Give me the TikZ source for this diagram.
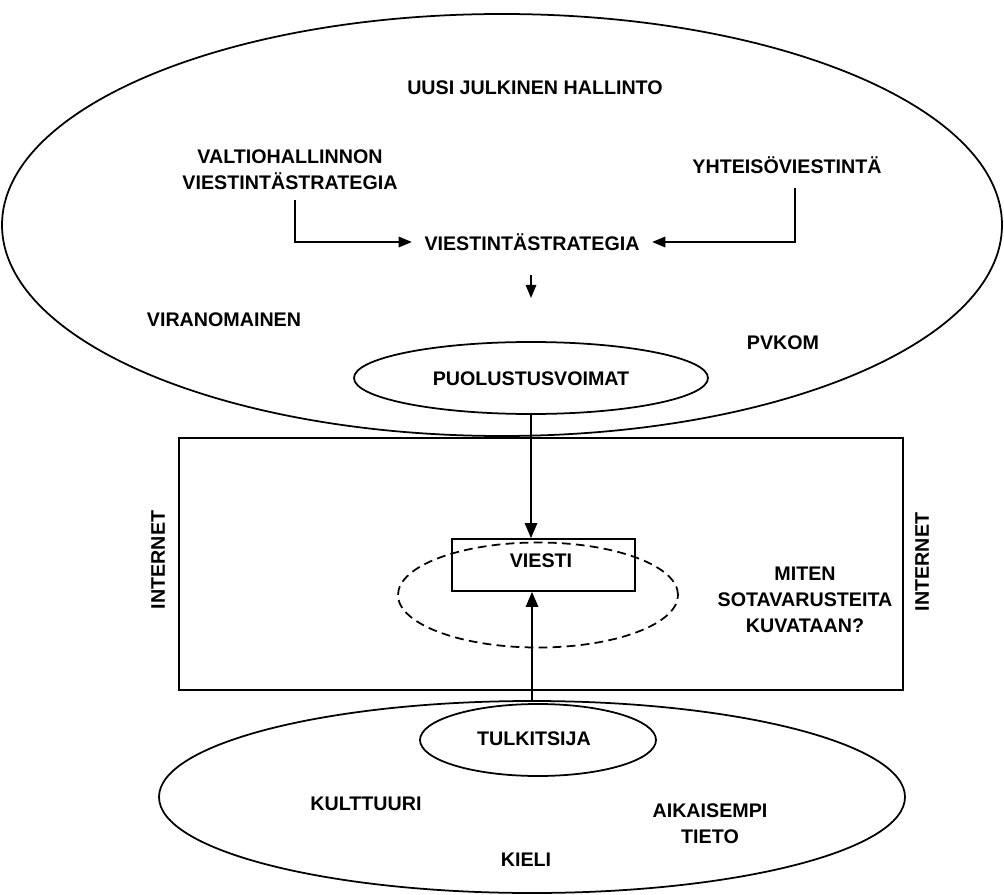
\documentclass[tikz,border=0pt]{standalone}
\usepackage{fontspec}
\setmainfont{Liberation Sans}
\usetikzlibrary{shapes.geometric,arrows.meta}
\begin{document}
\begin{tikzpicture}[x=0.02cm,y=-0.02cm,
  lbl/.style={inner sep=0pt,align=center,font=\fontsize{11.2}{14.7}\selectfont\bfseries},
  ell/.style={draw,ellipse,line width=1pt,inner sep=0pt},
  conn/.style={line width=1pt},
  arr/.style={line width=1pt,-{Triangle[length=7.5pt,width=6pt]}},
  bigarr/.style={line width=1pt,-{Triangle[length=8.5pt,width=7pt]}},
  dashell/.style={draw,ellipse,line width=1pt,inner sep=0pt,dash pattern=on 5pt off 3pt}
]
\path[use as bounding box,fill=white] (0,0) rectangle (1004,895);

% top ellipse
\node[ell,minimum width=1000*0.02cm,minimum height=422*0.02cm] (top) at (502,225) {};
\node[lbl] (ujh) at (535,88) {UUSI JULKINEN HALLINTO};
\node[lbl] (valt) at (290,170) {VALTIOHALLINNON\\VIESTINTÄSTRATEGIA};
\node[lbl] (yht) at (787,165) {YHTEISÖVIESTINTÄ};
\node[lbl,inner xsep=7pt] (vs) at (532,242) {VIESTINTÄSTRATEGIA};
\node[lbl] (vir) at (224,320) {VIRANOMAINEN};
\node[lbl] (pvk) at (783,343) {PVKOM};

\coordinate (c1) at (295,200);
\coordinate (c2) at (795,188);
\coordinate (c3) at (531,275);
\coordinate (c4) at (531,298);
\draw[arr] (c1) |- (vs.west);
\draw[arr] (c2) |- (vs.east);
\draw[arr] (c3) -- (c4);

% puolustusvoimat
\node[ell,fill=white,minimum width=354*0.02cm,minimum height=72*0.02cm] (pv) at (531,378) {};
\node[lbl] (pvt) at (531,379) {PUOLUSTUSVOIMAT};

% internet rectangle
\node[draw,line width=1pt,inner sep=0pt,minimum width=724*0.02cm,minimum height=252*0.02cm] (net) at (541,564) {};
\node[lbl,rotate=90] (int1) at (158,560) {INTERNET};
\node[lbl,rotate=90] (int2) at (922,562) {INTERNET};

% viesti
\node[dashell,minimum width=280*0.02cm,minimum height=105*0.02cm] (dash) at (538,595) {};
\node[draw,line width=1pt,inner sep=0pt,minimum width=183*0.02cm,minimum height=52*0.02cm] (vb) at (543.5,565) {};
\node[lbl] (vt) at (541,561) {VIESTI};
\node[lbl] (mit) at (805,600) {MITEN\\SOTAVARUSTEITA\\KUVATAAN?};

% bottom ellipse
\node[ell,minimum width=746*0.02cm,minimum height=192*0.02cm] (bot) at (532,797) {};
\node[ell,minimum width=236*0.02cm,minimum height=72*0.02cm] (tul) at (538,740) {};
\node[lbl] (tult) at (534,739) {TULKITSIJA};
\node[lbl] (kul) at (366,804) {KULTTUURI};
\node[lbl] (aik) at (710,824) {AIKAISEMPI\\TIETO};
\node[lbl] (kie) at (526,860) {KIELI};

\draw[bigarr] (pv.south) -- (pv.south |- vb.north);
\draw[bigarr] (bot.north) -- (bot.north |- vb.south);
\end{tikzpicture}
\end{document}
